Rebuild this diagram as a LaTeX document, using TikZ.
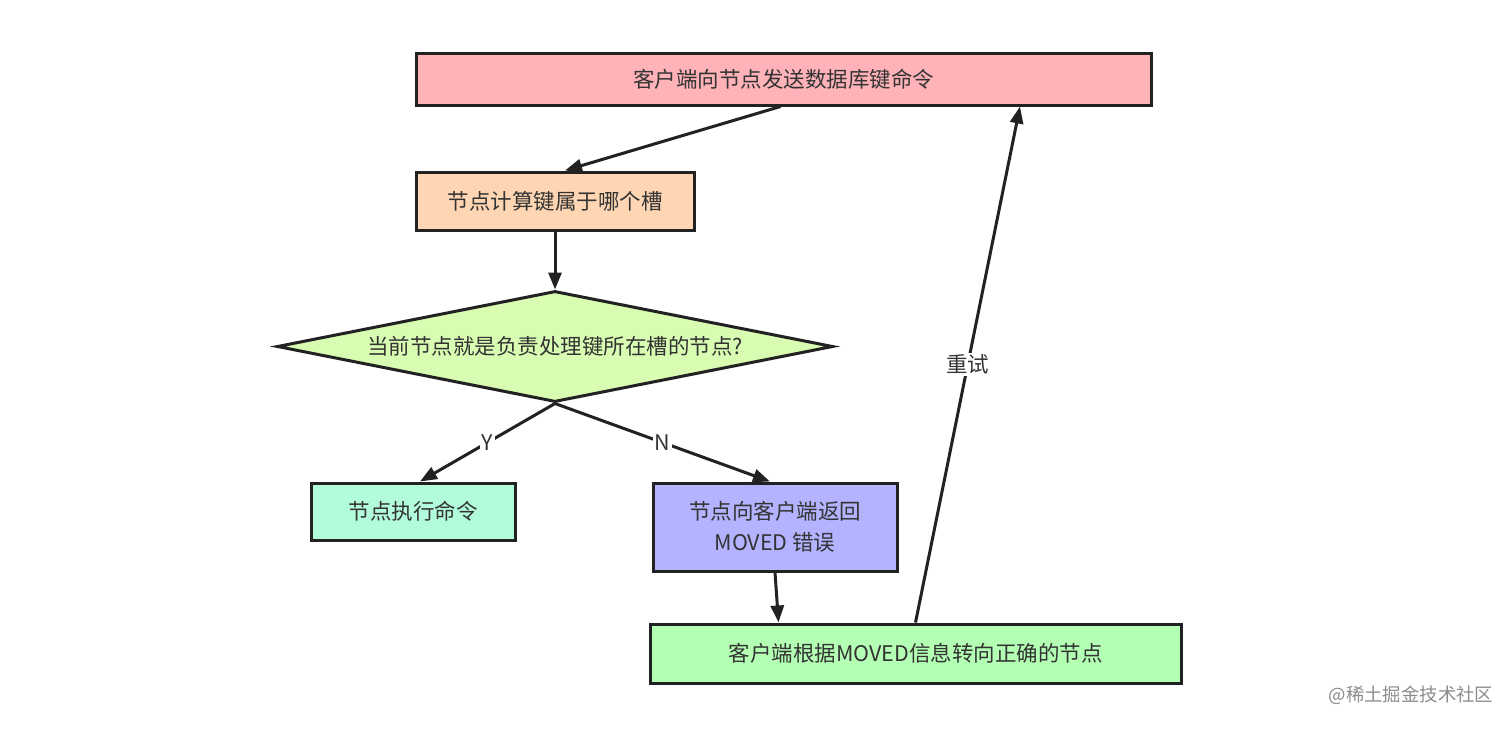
\documentclass[tikz,border=0pt]{standalone}
\usepackage{fontspec}
\setmainfont{Noto Sans CJK SC}
\usetikzlibrary{shapes.geometric,arrows.meta}
\definecolor{cpink}{HTML}{FFB3B8}
\definecolor{cpeach}{HTML}{FFD6B3}
\definecolor{clime}{HTML}{D9FCB3}
\definecolor{cmint}{HTML}{B3FCDB}
\definecolor{clav}{HTML}{B3B3FF}
\definecolor{cgreen}{HTML}{B3FFB3}
\definecolor{ctext}{HTML}{333333}
\definecolor{cline}{HTML}{222222}
\begin{document}
\begin{tikzpicture}[x=1pt,y=-1pt,
  every node/.style={font=\fontsize{21.5}{25}\selectfont, text=ctext, inner sep=0pt},
  box/.style={draw=cline, line width=3pt, rectangle, align=center},
  conn/.style={draw=cline, line width=3pt, -{Triangle[length=17pt,width=13pt]}},
  lbl/.style={fill=white, inner sep=2pt}
]
\useasboundingbox[fill=white] (0,0) rectangle (1512,728);
\node[box, fill=cpink, minimum width=735pt, minimum height=52pt] (top) at (783.5,79) {客户端向节点发送数据库键命令};
\node[box, fill=cpeach, minimum width=278pt, minimum height=58pt] (calc) at (555,201) {节点计算键属于哪个槽};
\node[draw=cline, line width=3pt, fill=clime, shape=diamond, aspect=5, minimum width=556pt, minimum height=111pt] (dia) at (555,346.5) {当前节点就是负责处理键所在槽的节点?};
\node[box, fill=cmint, minimum width=204pt, minimum height=57pt] (yes) at (413,511.5) {节点执行命令};
\node[box, fill=clav, minimum width=244pt, minimum height=88pt, font=\fontsize{21.5}{31}\selectfont] (no) at (775,527) {节点向客户端返回\\MOVED 错误};
\node[box, fill=cgreen, minimum width=531pt, minimum height=59pt] (bot) at (915.5,653.5) {客户端根据MOVED信息转向正确的节点};
\draw[conn] ([xshift=-3pt]top.south) -- ([xshift=10pt]calc.north);
\draw[conn] (calc.south) -- (dia.north);
\draw[conn] (dia.south) -- node[lbl] {Y} ([xshift=7pt]yes.north);
\draw[conn] (dia.south) -- node[lbl] {N} ([xshift=-5pt]no.north);
\draw[conn] (no.south) -- ([xshift=-137pt]bot.north);
\draw[conn] (bot.north) -- node[lbl] {重试} ([xshift=236.5pt]top.south);
\node[text=black!45, font=\fontsize{18.4}{21}\selectfont] (wm) at (1411,695) {@稀土掘金技术社区};
\end{tikzpicture}
\end{document}
